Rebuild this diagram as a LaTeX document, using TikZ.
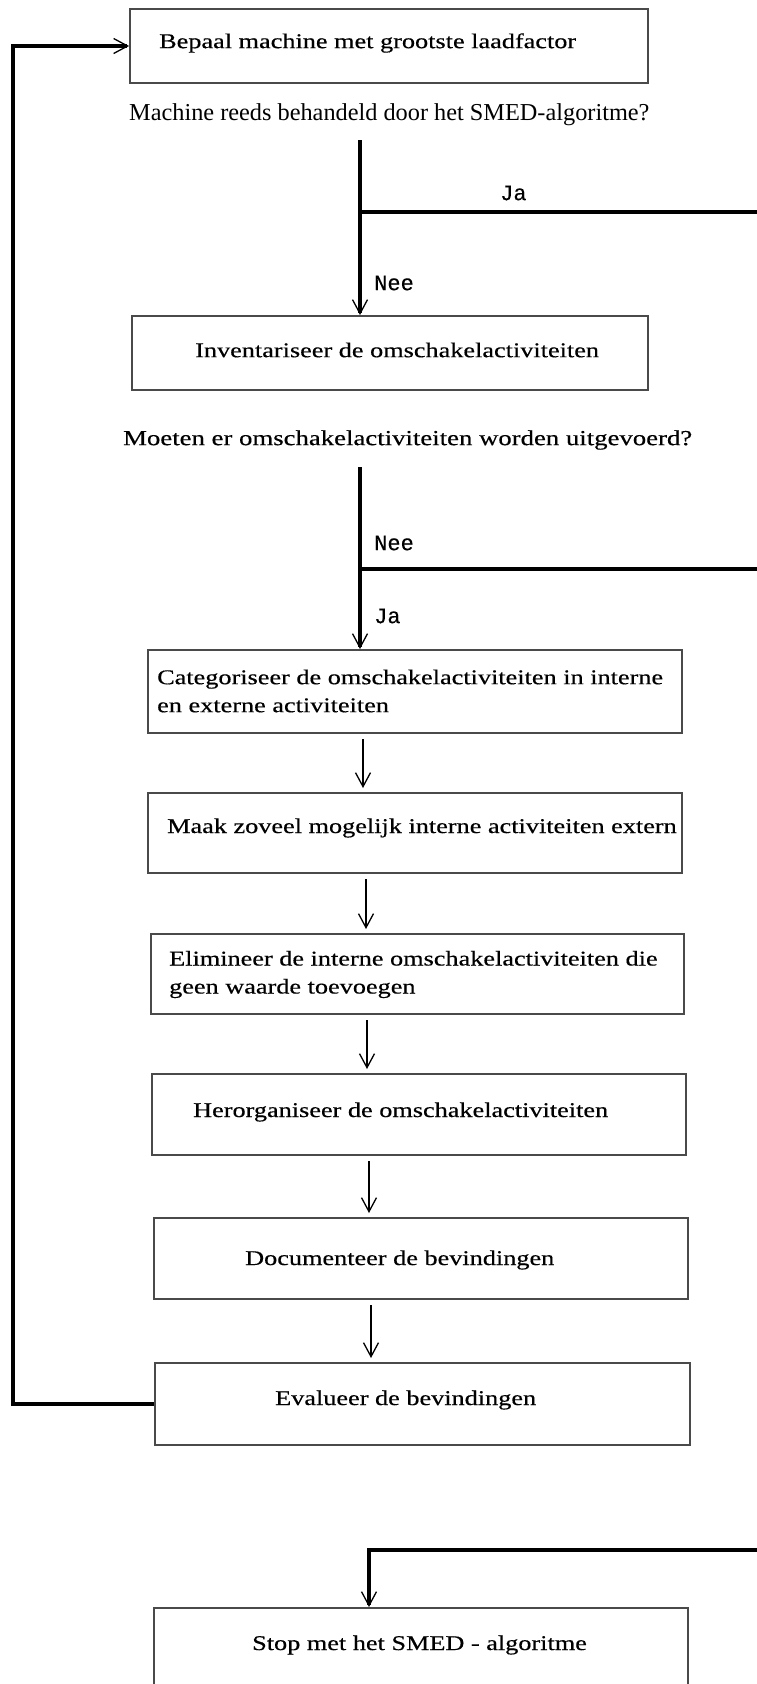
\documentclass[tikz,border=0pt]{standalone}
\usepackage{fontspec}
\setmainfont{Liberation Serif}
\newfontfamily\boxfont[FakeStretch=1.25,FakeBold=0.4]{Liberation Serif}
\newfontfamily\labfont[FakeBold=0.3]{Liberation Mono}
\usetikzlibrary{arrows.meta}
\definecolor{boxgray}{HTML}{4A4A4A}
\begin{document}
\begin{tikzpicture}[x=1pt,y=-1pt,
  stepbox/.style={draw=boxgray, line width=2pt, rectangle, inner sep=0pt},
  boxtext/.style={font=\boxfont\fontsize{21}{28}\selectfont, anchor=west, inner sep=0pt, align=left},
  qtext/.style={font=\fontsize{24.3}{28}\selectfont, anchor=west, inner sep=0pt},
  lab/.style={font=\labfont\fontsize{22}{24}\selectfont, anchor=west, inner sep=0pt},
  bigline/.style={line width=3.5pt, black},
  tip/.style={-{Straight Barb[length=14pt,width=15pt,line width=1.3pt]}},
  thinarr/.style={line width=1.3pt, black, -{Straight Barb[length=14pt,width=15pt,line width=1.3pt]}, shorten <=5pt, shorten >=4pt}
]
\useasboundingbox (0,0) rectangle (757,1684);
\clip (0,0) rectangle (757,1684);
\fill[white] (0,0) rectangle (757,1684);

% boxes
\node[stepbox, minimum width=518pt, minimum height=74pt] (b1) at (389,46) {};
\node[stepbox, minimum width=516pt, minimum height=74pt] (b2) at (390,353) {};
\node[stepbox, minimum width=534pt, minimum height=83pt] (b3) at (415,691.5) {};
\node[stepbox, minimum width=534pt, minimum height=80pt] (b4) at (415,833) {};
\node[stepbox, minimum width=533pt, minimum height=80pt] (b5) at (417.5,974) {};
\node[stepbox, minimum width=534pt, minimum height=81pt] (b6) at (419,1114.5) {};
\node[stepbox, minimum width=534pt, minimum height=81pt] (b7) at (421,1258.5) {};
\node[stepbox, minimum width=535pt, minimum height=82pt] (b8) at (422.5,1404) {};
\node[stepbox, minimum width=534pt, minimum height=112pt] (b9) at (421,1664) {};

% box texts
\node[boxtext] (t1) at (159,43) {Bepaal machine met grootste laadfactor};
\node[boxtext] (t2) at (195,350) {Inventariseer de omschakelactiviteiten};
\node[boxtext] (t3) at (157,691) {Categoriseer de omschakelactiviteiten in interne\\en externe activiteiten};
\node[boxtext] (t4) at (167,828) {Maak zoveel mogelijk interne activiteiten extern};
\node[boxtext] (t5) at (169,974.5) {Elimineer de interne omschakelactiviteiten die\\geen waarde toevoegen};
\node[boxtext] (t6) at (193,1112) {Herorganiseer de omschakelactiviteiten};
\node[boxtext] (t7) at (245,1260) {Documenteer de bevindingen};
\node[boxtext] (t8) at (275,1400) {Evalueer de bevindingen};
\node[boxtext] (t9) at (252,1645) {Stop met het SMED - algoritme};

% questions and labels
\node[qtext] (q1) at (129,115) {Machine reeds behandeld door het SMED-algoritme?};
\node[boxtext, font=\boxfont\fontsize{21.4}{28}\selectfont] (q2) at (123,440) {Moeten er omschakelactiviteiten worden uitgevoerd?};
\node[lab] (ja1) at (500,193) {Ja};
\node[lab] (nee1) at (374,283) {Nee};
\node[lab] (nee2) at (374,543) {Nee};
\node[lab] (ja2) at (374,616) {Ja};

% coordinates
\coordinate (d1) at (360,140);
\coordinate (j1) at (360,212);
\coordinate (r1) at (760,212);
\coordinate (d2) at (360,467);
\coordinate (j2) at (360,569);
\coordinate (r2) at (760,569);
\coordinate (r3) at (760,1550);
\coordinate (lp) at (13,700);
\coordinate (xa) at (360,0);
\coordinate (x3) at (363,0);
\coordinate (x4) at (366,0);
\coordinate (x5) at (367,0);
\coordinate (x6) at (369,0);
\coordinate (x7) at (371,0);

% decision connectors
\draw[bigline, tip] (d1) -- (xa |- b2.north);
\draw[bigline] (j1) -- (r1);
\draw[bigline, tip] (d2) -- (xa |- b3.north);
\draw[bigline] (j2) -- (r2);

% thin arrows
\draw[thinarr] (x3 |- b3.south) -- (x3 |- b4.north);
\draw[thinarr] (x4 |- b4.south) -- (x4 |- b5.north);
\draw[thinarr] (x5 |- b5.south) -- (x5 |- b6.north);
\draw[thinarr] (x6 |- b6.south) -- (x6 |- b7.north);
\draw[thinarr] (x7 |- b7.south) -- (x7 |- b8.north);

% loop back
\draw[bigline, tip] (b8.west) -| (lp) |- (b1.west);

% to stop
\draw[bigline, tip] (r3) -| (x6 |- b9.north);
\end{tikzpicture}
\end{document}
